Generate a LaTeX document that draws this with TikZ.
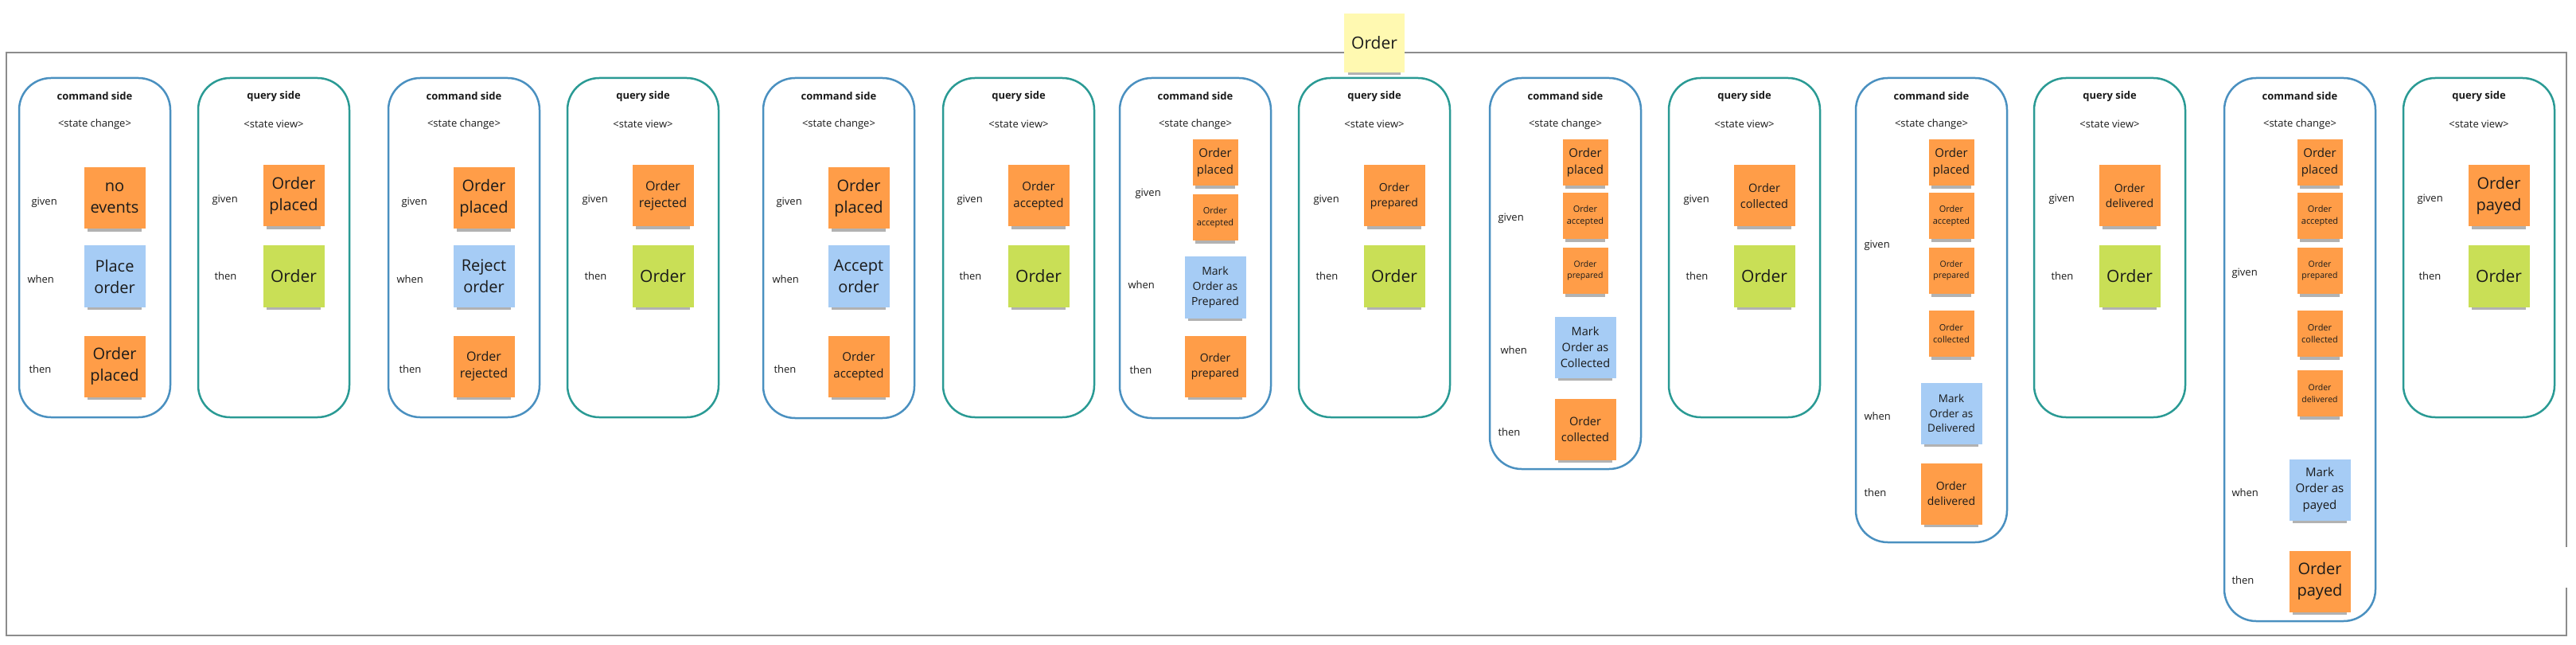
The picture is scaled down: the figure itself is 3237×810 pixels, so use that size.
\documentclass[tikz,border=0pt]{standalone}
\usepackage{fontspec}
\setmainfont{Open Sans}
\usetikzlibrary{shadows}
\definecolor{evorange}{HTML}{FF9D48}
\definecolor{cmdblue}{HTML}{A6CCF5}
\definecolor{viewgreen}{HTML}{C9DF56}
\definecolor{aggyellow}{HTML}{FFF9B1}
\definecolor{cmdline}{HTML}{4A90C0}
\definecolor{qryline}{HTML}{2A9A94}
\definecolor{framegray}{HTML}{8C8C8C}
\definecolor{ink}{HTML}{1A1A1A}
\newcommand\fsz[1]{\fontsize{#1}{\fpeval{1.35*#1}}\selectfont}

\begin{document}
\begin{tikzpicture}[x=1pt,y=-1pt,
  every node/.style={text=ink},
  sticky/.style={minimum width=77pt,minimum height=77pt,inner sep=1pt,align=center,
    drop shadow={shadow xshift=0pt,shadow yshift=-9pt,shadow scale=0.88,opacity=0.3,fill=black}},
  smallnote/.style={minimum width=57pt,minimum height=58pt},
  evt/.style={sticky,fill=evorange},
  cmdnote/.style={sticky,fill=cmdblue},
  viewnote/.style={sticky,fill=viewgreen},
  lane/.style={rounded corners=40pt,line width=2.5pt},
  sz/.style={font=\fsz{#1}},
  lbl/.style={anchor=west,font=\fsz{13}}]
  \useasboundingbox (0,0) rectangle (3237,810);
  \draw[framegray,line width=2.5pt] (3225,687) -- (3225,66) -- (8,66) -- (8,798) -- (3225,798) -- (3225,738);
  \node[sticky,fill=aggyellow,minimum width=76pt,minimum height=74pt,sz=21] (agg) at (1727,54) {Order};

  \foreach \c/\x/\b/\lc/\lanehead/\lanesub in {
      1/24/524/cmdline/command side/<state change>, 2/249/524/qryline/query side/<state view>,
      3/488/524/cmdline/command side/<state change>, 4/713/524/qryline/query side/<state view>,
      5/959/525/cmdline/command side/<state change>, 6/1185/524/qryline/query side/<state view>,
      7/1407/525/cmdline/command side/<state change>, 8/1632/524/qryline/query side/<state view>,
      9/1872/589/cmdline/command side/<state change>, 10/2097/524/qryline/query side/<state view>,
      11/2332/681/cmdline/command side/<state change>, 12/2556/524/qryline/query side/<state view>,
      13/2795/780/cmdline/command side/<state change>, 14/3020/524/qryline/query side/<state view>} {
    \draw[lane,draw=\lc] (\x,98) rectangle (\x+190,\b);
    \node[font=\fsz{13}\bfseries] (head\c) at (\x+95,121) {\lanehead};
    \node[font=\fsz{13}] (sub\c) at (\x+95,156) {\lanesub};
  }

  \foreach \n/\x/\y/\t in {
      1g/36/254/given, 1w/31/351/when, 1t/33/464/then,
      2g/263/251/given, 2t/266/347/then,
      3g/501/254/given, 3w/495/351/when, 3t/498/464/then,
      4g/728/251/given, 4t/731/347/then,
      5g/972/254/given, 5w/967/351/when, 5t/969/464/then,
      6g/1199/251/given, 6t/1202/347/then,
      7g/1423/243/given, 7w/1414/358/when, 7t/1416/465/then,
      8g/1647/251/given, 8t/1650/347/then,
      9g/1879/274/given, 9w/1882/440/when, 9t/1879/543/then,
      10g/2112/251/given, 10t/2115/347/then,
      11g/2339/308/given, 11w/2339/523/when, 11t/2339/619/then,
      12g/2571/250/given, 12t/2574/347/then,
      13g/2801/343/given, 13w/2801/619/when, 13t/2801/729/then,
      14g/3034/250/given, 14t/3036/347/then}
    \node[lbl] (lbl\n) at (\x,\y) {\t};

  \node[evt,sz=20] (c1g) at (144,249) {no\\events};
  \node[cmdnote,sz=20] (c1w) at (144,347) {Place\\order};
  \node[evt,sz=20] (c1t) at (144,460) {Order\\placed};

  \node[evt,sz=20] (c2g) at (369,246) {Order\\placed};
  \node[viewnote,sz=21] (c2t) at (369,347) {Order};

  \node[evt,sz=20] (c3g) at (608,249) {Order\\placed};
  \node[cmdnote,sz=20] (c3w) at (608,347) {Reject\\order};
  \node[evt,sz=16] (c3t) at (608,460) {Order\\rejected};

  \node[evt,sz=16] (c4g) at (833,246) {Order\\rejected};
  \node[viewnote,sz=21] (c4t) at (833,347) {Order};

  \node[evt,sz=20] (c5g) at (1079,249) {Order\\placed};
  \node[cmdnote,sz=20] (c5w) at (1079,347) {Accept\\order};
  \node[evt,sz=15] (c5t) at (1079,460) {Order\\accepted};

  \node[evt,sz=15] (c6g) at (1305,246) {Order\\accepted};
  \node[viewnote,sz=21] (c6t) at (1305,347) {Order};

  \node[evt,smallnote,sz=15] (c7g1) at (1527,204) {Order\\placed};
  \node[evt,smallnote,sz=11] (c7g2) at (1527,273) {Order\\accepted};
  \node[cmdnote,sz=14] (c7w) at (1527,361) {Mark\\Order as\\Prepared};
  \node[evt,sz=14] (c7t) at (1527,460) {Order\\prepared};

  \node[evt,sz=14] (c8g) at (1752,246) {Order\\prepared};
  \node[viewnote,sz=21] (c8t) at (1752,347) {Order};

  \node[evt,smallnote,sz=15] (c9g1) at (1992,204) {Order\\placed};
  \node[evt,smallnote,sz=11] (c9g2) at (1992,271) {Order\\accepted};
  \node[evt,smallnote,sz=10.5] (c9g3) at (1992,340) {Order\\prepared};
  \node[cmdnote,sz=14.5] (c9w) at (1992,436) {Mark\\Order as\\Collected};
  \node[evt,sz=14.5] (c9t) at (1992,539) {Order\\collected};

  \node[evt,sz=14.5] (c10g) at (2217,246) {Order\\collected};
  \node[viewnote,sz=21] (c10t) at (2217,347) {Order};

  \node[evt,smallnote,sz=15] (c11g1) at (2452,204) {Order\\placed};
  \node[evt,smallnote,sz=11] (c11g2) at (2452,271) {Order\\accepted};
  \node[evt,smallnote,sz=10.5] (c11g3) at (2452,340) {Order\\prepared};
  \node[evt,smallnote,sz=11] (c11g4) at (2452,419) {Order\\collected};
  \node[cmdnote,sz=13.5] (c11w) at (2452,519) {Mark\\Order as\\Delivered};
  \node[evt,sz=14] (c11t) at (2452,620) {Order\\delivered};

  \node[evt,sz=14] (c12g) at (2676,246) {Order\\delivered};
  \node[viewnote,sz=21] (c12t) at (2676,347) {Order};

  \node[evt,smallnote,sz=15] (c13g1) at (2915,204) {Order\\placed};
  \node[evt,smallnote,sz=11] (c13g2) at (2915,271) {Order\\accepted};
  \node[evt,smallnote,sz=10.5] (c13g3) at (2915,340) {Order\\prepared};
  \node[evt,smallnote,sz=11] (c13g4) at (2915,419) {Order\\collected};
  \node[evt,smallnote,sz=10.5] (c13g5) at (2915,494) {Order\\delivered};
  \node[cmdnote,sz=15] (c13w) at (2915,615) {Mark\\Order as\\payed};
  \node[evt,sz=20] (c13t) at (2915,730) {Order\\payed};

  \node[evt,sz=20] (c14g) at (3140,246) {Order\\payed};
  \node[viewnote,sz=21] (c14t) at (3140,347) {Order};
\end{tikzpicture}
\end{document}
